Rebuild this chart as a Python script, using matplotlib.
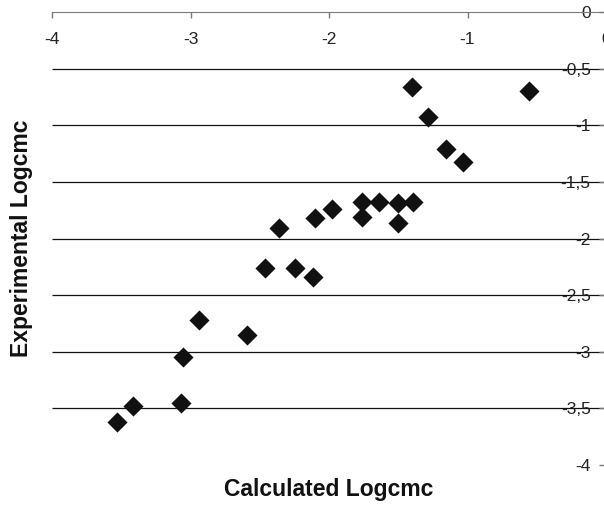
import matplotlib
matplotlib.use('Agg')
from matplotlib import pyplot as plt

plt.rcParams['font.family'] = ['Liberation Sans', 'DejaVu Sans']

calc = [-1.403, -0.554, -1.287, -1.157, -1.030, -2.103, -1.981, -1.764, -1.764,
        -1.637, -1.504, -1.504, -1.391, -2.113, -2.359, -2.460, -2.243, -2.936,
        -2.592, -3.057, -3.413, -3.069, -3.533]
exper = [-0.657, -0.695, -0.922, -1.210, -1.320, -1.820, -1.740, -1.673, -1.811,
         -1.673, -1.682, -1.864, -1.673, -2.341, -1.903, -2.261, -2.261, -2.718,
         -2.853, -3.042, -3.478, -3.454, -3.617]

x_ticks = [-4, -3, -2, -1, 0]
y_ticks = [0, -0.5, -1, -1.5, -2, -2.5, -3, -3.5, -4]
y_labels = ['0', '-0,5', '-1', '-1,5', '-2', '-2,5', '-3', '-3,5', '-4']

fig = plt.figure(figsize=(6.04, 5.05), dpi=100)
W, H = 604, 505
ax = fig.add_axes([52 / W, 40 / H, 554 / W, 452.7 / H])
ax.set_xlim(-4, 0)
ax.set_ylim(-4, 0)

# horizontal grid lines (none at 0 and -4)
ax.hlines(y_ticks[1:-1], -4, 0, color='#111111', linewidth=0.9, zorder=1)

ax.scatter(calc, exper, marker='D', s=105, color='#111111', zorder=3, linewidths=0)

for s in ['top', 'right']:
    ax.spines[s].set_visible(False)
ax.spines['bottom'].set_position(('data', 0))
ax.spines['left'].set_position(('data', 0))
ax.spines['bottom'].set_color('#7a7a7a')
ax.spines['left'].set_color('#7a7a7a')

ax.set_xticks(x_ticks)
ax.set_xticklabels([str(v) for v in x_ticks])
ax.set_yticks(y_ticks)
ax.set_yticklabels(y_labels)
ax.tick_params(axis='x', direction='out', length=4, width=1, color='#7a7a7a',
               pad=10, labelsize=12.5, labelcolor='#222222')
ax.tick_params(axis='y', direction='out', length=5, width=1, color='#7a7a7a',
               pad=6, labelsize=12.5, labelcolor='#222222')
ax.patch.set_visible(False)

fig.text(329 / W, 1 - 496 / H, 'Calculated Logcmc', ha='center', va='baseline',
         fontsize=16.5, fontweight='bold', color='#111111')
fig.text(22 / W, 1 - 238 / H, 'Experimental Logcmc', ha='center', va='center',
         rotation=90, fontsize=16.5, fontweight='bold', color='#111111')

plt.savefig('out.png', dpi=100)
